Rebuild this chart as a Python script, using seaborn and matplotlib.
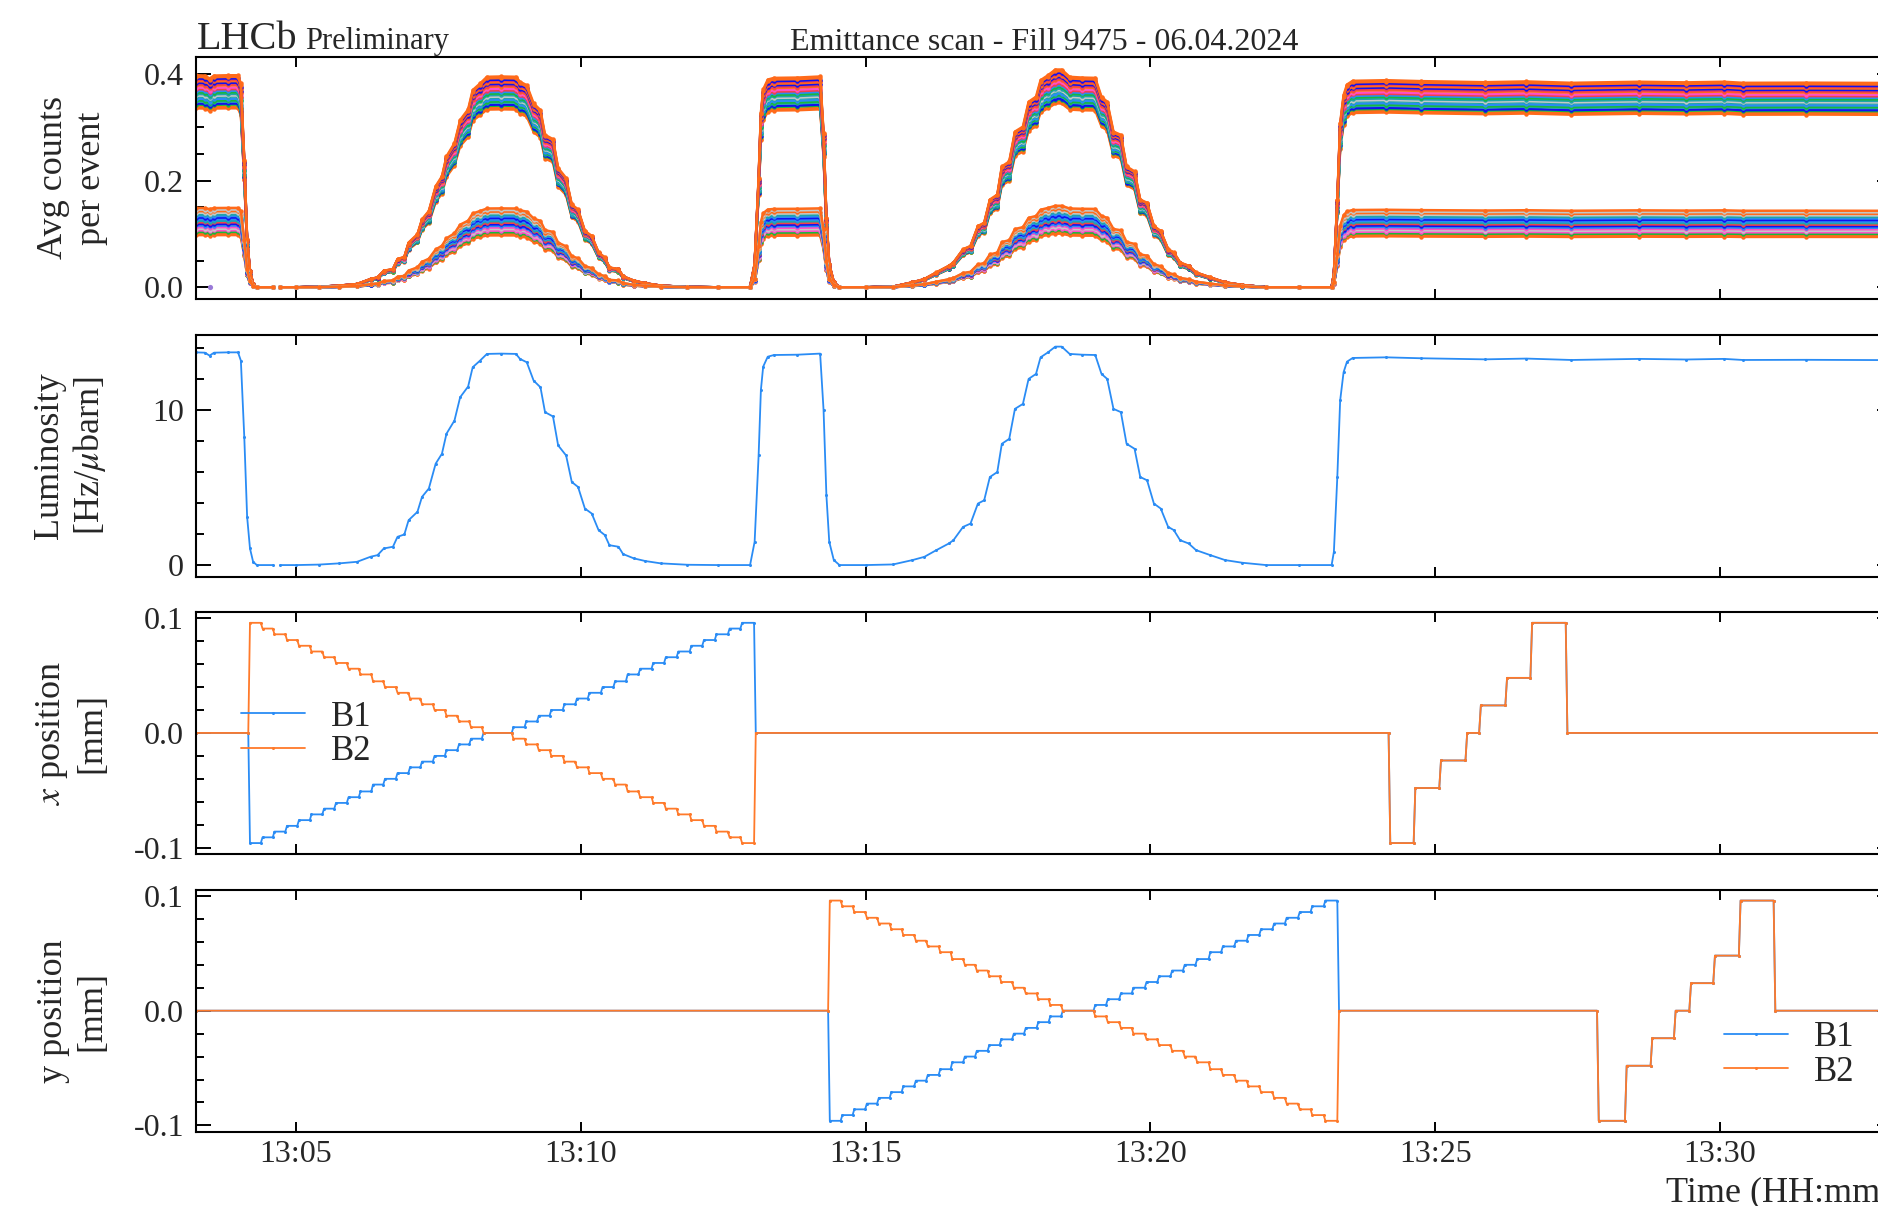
import matplotlib
matplotlib.use("Agg")
import matplotlib.pyplot as plt
from matplotlib.ticker import FuncFormatter, MultipleLocator, FormatStrFormatter
import seaborn as sns
import pandas as pd

# time in minutes after 13:00
t_min, t_max = 3.25, 33.02

# instantaneous luminosity [Hz/ubarn]
lumi_time = [3.25, 3.40, 3.48, 3.56, 3.80, 3.98, 4.03, 4.09, 4.14, 4.19, 4.245, 4.31, 4.60,
             4.72, 5.00, 5.40, 5.76, 6.07, 6.31, 6.43, 6.54, 6.70, 6.78, 6.90, 6.975, 7.13,
             7.21, 7.33, 7.45, 7.56, 7.64, 7.78, 7.88, 8.02, 8.10, 8.23, 8.35, 8.60, 8.86,
             8.93, 9.05, 9.17, 9.29, 9.37, 9.51, 9.60, 9.74, 9.84, 9.95, 10.07, 10.19, 10.31,
             10.42, 10.50, 10.66, 10.74, 10.93, 11.13, 11.40, 11.87, 12.40, 12.97, 13.05,
             13.12, 13.16, 13.20, 13.28, 13.39, 13.80, 14.20, 14.26, 14.31, 14.36, 14.44,
             14.54, 15.00, 15.48, 15.82, 16.03, 16.24, 16.46, 16.54, 16.71, 16.84, 16.97,
             17.08, 17.18, 17.31, 17.39, 17.52, 17.62, 17.76, 17.86, 17.99, 18.07, 18.20,
             18.33, 18.44, 18.58, 18.80, 19.03, 19.14, 19.24, 19.35, 19.48, 19.58, 19.72,
             19.82, 19.94, 20.06, 20.18, 20.31, 20.41, 20.52, 20.67, 20.80, 21.05, 21.31,
             21.61, 22.03, 22.60, 23.18, 23.22, 23.28, 23.33, 23.39, 23.45, 23.55, 24.14,
             24.75, 25.87, 26.60, 27.39, 28.58, 29.40, 30.07, 30.40, 31.50, 33.05]
lumi_value = [13.70, 13.68, 13.49, 13.68, 13.70, 13.70, 13.17, 8.24, 3.10, 1.07, 0.21, 0.00, 0.00,
              0.00, 0.00, 0.03, 0.11, 0.21, 0.54, 0.64, 1.07, 1.18, 1.82, 1.97, 2.89, 3.43,
              4.39, 4.93, 6.53, 7.17, 8.46, 9.31, 10.81, 11.50, 12.74, 13.17, 13.60, 13.62, 13.60,
              13.28, 13.06, 11.88, 11.45, 9.85, 9.57, 7.71, 7.06, 5.35, 5.03, 3.64, 3.32, 2.25,
              1.93, 1.28, 1.18, 0.71, 0.43, 0.26, 0.11, 0.02, 0.00, 0.00, 1.50,
              7.06, 11.28, 12.78, 13.42, 13.53, 13.55, 13.62, 10.00, 4.50, 1.50, 0.32,
              0.00, 0.00, 0.04, 0.32, 0.53, 0.96, 1.39, 1.60, 2.46, 2.67, 3.96,
              4.17, 5.67, 5.99, 7.81, 8.13, 10.06, 10.38, 11.99, 12.31, 13.38, 13.70,
              14.07, 14.07, 13.60, 13.55, 13.53, 12.31, 11.99, 10.06, 9.85, 7.81, 7.49,
              5.67, 5.46, 3.96, 3.64, 2.46, 2.25, 1.60, 1.39, 0.96, 0.64, 0.32,
              0.15, 0.00, 0.00, 0.00, 0.86, 5.67, 10.60, 12.42, 13.10, 13.34, 13.38,
              13.32, 13.25, 13.30, 13.21, 13.28, 13.24, 13.28, 13.21, 13.22, 13.20]
lumi_gap_after = 4.60   # short hole in the luminosity record
lumi_ref = 13.70        # luminosity at which the channel levels were read

# per-channel average counts per event (at lumi_ref), two groups of counters
channel_level = [0.336, 0.339, 0.343, 0.345, 0.349, 0.351, 0.354, 0.358, 0.360, 0.363, 0.366,
                 0.369, 0.372, 0.375, 0.379, 0.381, 0.384, 0.387, 0.390, 0.392, 0.395, 0.398,
                 0.098, 0.101, 0.104, 0.107, 0.110, 0.113, 0.116, 0.119, 0.122, 0.125, 0.128,
                 0.131, 0.134, 0.137, 0.140, 0.143, 0.146, 0.149]
channel_color = ["#ff6a1a", "#ff6a1a", "#18b83a", "#1010f0", "#1fa5a8", "#18b83a", "#2a8cf5",
                 "#1fa5a8", "#c4c8c8", "#1fa5a8", "#18b83a", "#2a8cf5", "#f2404a", "#ff4fc8",
                 "#ff6a1a", "#f2404a", "#1010f0", "#ff6a1a", "#f2404a", "#1010f0", "#ff6a1a",
                 "#ff6a1a",
                 "#ff6a1a", "#ff6a1a", "#18b83a", "#ff4fc8", "#c4c8c8", "#ff4fc8", "#2a8cf5",
                 "#1010f0", "#f2404a", "#1fa5a8", "#2a8cf5", "#1010f0", "#2a8cf5", "#1fa5a8",
                 "#c4c8c8", "#ff6a1a", "#c4c8c8", "#ff6a1a"]
dropout_time = [3.49]
dropout_counts = [0.0]

# beam positions [mm]: start time of each step and the level held during it
x_step_time = [3.25, 4.19, 4.41, 4.62, 4.84, 5.05, 5.27, 5.49, 5.70, 5.92, 6.13, 6.35, 6.56, 6.78,
               7.00, 7.21, 7.43, 7.64, 7.86, 8.07, 8.29, 8.815, 9.04, 9.26, 9.48, 9.71, 9.93,
               10.15, 10.38, 10.60, 10.82, 11.04, 11.27, 11.49, 11.71, 11.94, 12.16, 12.38,
               12.61, 12.83, 13.07, 24.21, 24.65, 25.10, 25.56, 25.80, 26.26, 26.70, 27.32]
y_step_time = [3.25, 14.37, 14.59, 14.80, 15.02, 15.23, 15.45, 15.66, 15.88, 16.09, 16.31, 16.52,
               16.74, 16.95, 17.17, 17.38, 17.60, 17.81, 18.03, 18.24, 18.46, 19.03, 19.25,
               19.48, 19.70, 19.93, 20.15, 20.38, 20.60, 20.82, 21.05, 21.27, 21.50, 21.72,
               21.94, 22.17, 22.39, 22.62, 22.84, 23.07, 23.31, 27.87, 28.36, 28.81, 29.22,
               29.49, 29.91, 30.36, 30.97]
b1_level = [0.0, -0.096, -0.091, -0.086, -0.081, -0.076, -0.071, -0.066, -0.061, -0.056, -0.051,
            -0.045, -0.040, -0.035, -0.030, -0.025, -0.020, -0.015, -0.010, -0.005, 0.0,
            0.005, 0.010, 0.015, 0.020, 0.025, 0.030, 0.035, 0.040, 0.045, 0.051, 0.056,
            0.061, 0.066, 0.071, 0.076, 0.081, 0.086, 0.091, 0.096, 0.0,
            -0.096, -0.048, -0.024, 0.0, 0.024, 0.048, 0.096, 0.0]
b2_level = [0.0, 0.096, 0.091, 0.086, 0.081, 0.076, 0.071, 0.066, 0.061, 0.056, 0.051,
            0.045, 0.040, 0.035, 0.030, 0.025, 0.020, 0.015, 0.010, 0.005, 0.0,
            -0.005, -0.010, -0.015, -0.020, -0.025, -0.030, -0.035, -0.040, -0.045, -0.051,
            -0.056, -0.061, -0.066, -0.071, -0.076, -0.081, -0.086, -0.091, -0.096, 0.0,
            -0.096, -0.048, -0.024, 0.0, 0.024, 0.048, 0.096, 0.0]

blue = "#2a8cf5"
orange = "#ff7a2a"


def step_frame(times, b1, b2, t_end, dt=0.03):
    rows = []
    for beam, levels in (("B1", b1), ("B2", b2)):
        for i, v in enumerate(levels):
            t1 = times[i + 1] - dt if i + 1 < len(times) else t_end
            rows.append((beam, times[i], v))
            rows.append((beam, t1, v))
    return pd.DataFrame(rows, columns=["beam", "t", "pos"])


sns.set_style("ticks")
plt.rcParams.update({
    "font.family": ["Liberation Serif", "DejaVu Serif"],
    "mathtext.fontset": "stix",
    "axes.unicode_minus": False,
    "axes.linewidth": 1.5,
    "axes.edgecolor": "black",
})

lumi = pd.DataFrame({"t": lumi_time, "lumi": lumi_value})
lumi["seg"] = (lumi["t"] > lumi_gap_after).astype(int)

parts = []
for i, lvl in enumerate(channel_level):
    p = lumi.copy()
    p["counts"] = lvl * p["lumi"] / lumi_ref
    p["channel"] = "ch%02d" % i
    p["unit"] = p["channel"] + "_" + p["seg"].astype(str)
    parts.append(p)
counts = pd.concat(parts, ignore_index=True)

xpos = step_frame(x_step_time, b1_level, b2_level, t_max + 0.1)
ypos = step_frame(y_step_time, b1_level, b2_level, t_max + 0.1)

fig = plt.figure(figsize=(18.78, 12.06), dpi=100)
left, width, height = 0.1046, 0.9029, 0.2007
ax1 = fig.add_axes([left, 0.7521, width, height])
ax2 = fig.add_axes([left, 0.5218, width, height], sharex=ax1)
ax3 = fig.add_axes([left, 0.2919, width, height], sharex=ax1)
ax4 = fig.add_axes([left, 0.0616, width, height], sharex=ax1)
axes = [ax1, ax2, ax3, ax4]

sns.lineplot(data=counts, x="t", y="counts", hue="channel", units="unit", estimator=None,
             palette=channel_color, legend=False, lw=1.8, marker="o", markersize=3.2,
             markeredgewidth=0, ax=ax1)
sns.scatterplot(x=dropout_time, y=dropout_counts, color="#9a7ad8", s=14, linewidth=0, ax=ax1)

sns.lineplot(data=lumi, x="t", y="lumi", units="seg", estimator=None, color=blue, lw=1.3,
             marker="o", markersize=2.2, markeredgewidth=0, ax=ax2)

for ax, df in ((ax3, xpos), (ax4, ypos)):
    sns.lineplot(data=df, x="t", y="pos", hue="beam", palette=[blue, orange], estimator=None,
                 legend=False, lw=1.3, marker="o", markersize=2.2, markeredgewidth=0, ax=ax)

ax1.set_ylim(-0.0219, 0.4324)
ax1.yaxis.set_major_locator(MultipleLocator(0.2))
ax1.yaxis.set_minor_locator(MultipleLocator(0.05))
ax1.yaxis.set_major_formatter(FormatStrFormatter("%.1f"))
ax2.set_ylim(-0.75, 14.84)
ax2.yaxis.set_major_locator(MultipleLocator(10))
ax2.yaxis.set_minor_locator(MultipleLocator(2))
ax2.yaxis.set_major_formatter(FormatStrFormatter("%d"))
for ax in (ax3, ax4):
    ax.set_ylim(-0.1055, 0.1055)
    ax.yaxis.set_major_locator(MultipleLocator(0.1))
    ax.yaxis.set_minor_locator(MultipleLocator(0.02))
    ax.yaxis.set_major_formatter(FormatStrFormatter("%.1f"))

ylabels = ["Avg counts\nper event", "Luminosity\n[Hz/$\\mu$barn]", "$x$ position\n[mm]",
           "y position\n[mm]"]
for ax, lab in zip(axes, ylabels):
    ax.set_xlim(t_min, t_max)
    ax.xaxis.set_major_locator(MultipleLocator(5))
    ax.xaxis.set_major_formatter(FuncFormatter(lambda v, p: "13:%02d" % int(round(v))))
    ax.tick_params(which="both", direction="in", top=True, right=True, width=1.4,
                   labelsize=23, color="black")
    ax.tick_params(axis="x", which="major", length=7, pad=6)
    ax.tick_params(axis="x", which="minor", bottom=False, top=False)
    ax.tick_params(axis="y", which="major", length=11, pad=9)
    ax.tick_params(axis="y", which="minor", length=5.8)
    ax.set_xlabel("")
    ax.set_ylabel(lab, fontsize=26)
    ax.yaxis.set_label_coords(-0.052, 0.5)
    if ax is not ax4:
        ax.tick_params(axis="x", labelbottom=False)

ax4.set_xlabel("Time (HH:mm)", fontsize=26, ha="right")
ax4.xaxis.set_label_coords(1.0, -0.185)

leg_kw = dict(frameon=False, fontsize=25, handlelength=1.85, handletextpad=0.75,
              labelspacing=0.05, borderpad=0, borderaxespad=0, loc="center left")
ax3.legend(ax3.lines[:2], ["B1", "B2"], bbox_to_anchor=(0.0263, 0.494), **leg_kw)
ax4.legend(ax4.lines[:2], ["B1", "B2"], bbox_to_anchor=(0.9009, 0.318), **leg_kw)

ax1.set_title("Emittance scan - Fill 9475 - 06.04.2024", fontsize=23, pad=4.8)
ax1.text(0.0, 1.0347, "LHCb", transform=ax1.transAxes, fontsize=29, ha="left", va="baseline")
ax1.text(0.064, 1.0347, "Preliminary", transform=ax1.transAxes, fontsize=22, ha="left",
         va="baseline")

fig.savefig("out.png", dpi=100)
